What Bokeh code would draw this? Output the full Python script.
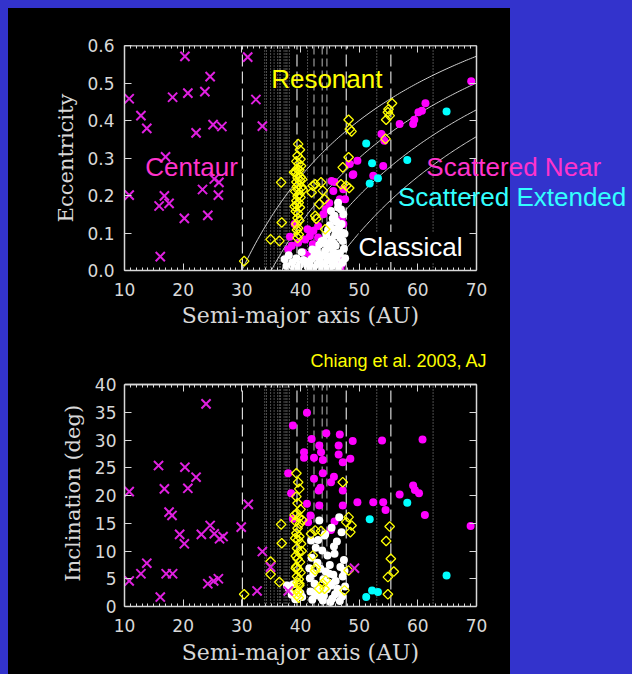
import numpy as np
from bokeh.plotting import figure
from bokeh.layouts import column
from bokeh.models import (Label, LinearAxis, Range1d, FixedTicker, NumeralTickFormatter)
from bokeh.embed import file_html
from bokeh.resources import INLINE

# ---------------- data ----------------
# resonance locations (AU)
res_dashed = [30.1, 39.4, 47.8, 55.4]
res_medium = [42.3, 43.7, 44.5]
res_dotted = [33.9, 34.2, 34.9, 35.5, 36.1, 36.4, 36.6, 37.2, 37.5, 37.7, 38.1, 41.2, 53.0, 62.6]
# perihelion curves q = a(1-e)
q_values = [30, 35, 40, 45]

# axis ticks
x_ticks = [10, 20, 30, 40, 50, 60, 70]
x_minor = [v for v in range(11, 70) if v % 10]
e_ticks = [0.0, 0.1, 0.2, 0.3, 0.4, 0.5, 0.6]
i_ticks = [0, 5, 10, 15, 20, 25, 30, 35, 40]
x_lim = (10, 70)
e_lim = (0.0, 0.6)
i_lim = (0, 40)

# ---- top panel: eccentricity ----
cen_a_top = [10.8, 12.8, 13.8, 10.8, 17.0, 18.2, 20.3, 20.8, 22.2, 23.7, 24.6, 25.1, 26.6,
             16.8, 15.9, 17.6, 20.2, 24.2, 23.3, 25.3, 26.1, 26.0, 16.1, 31.0, 32.4, 33.5]
cen_e_top = [0.458, 0.413, 0.379, 0.201, 0.303, 0.462, 0.571, 0.473, 0.367, 0.477, 0.517, 0.389, 0.384,
             0.199, 0.172, 0.179, 0.139, 0.147, 0.216, 0.244, 0.235, 0.201, 0.037, 0.569, 0.456, 0.385]

res_a_top = [30.4, 34.9, 36.4, 36.8, 36.7, 42.1, 42.5, 41.9, 43.5, 43.8, 43.2, 44.1, 42.5, 42.7,
             44.2, 47.2, 46.9, 47.8, 48.3, 48.2, 48.2, 48.4, 48.7, 54.5, 54.6, 55.2, 54.9, 55.0, 55.6,
             39.6, 39.9, 39.5, 40.0, 39.3, 39.7, 40.1, 39.4, 39.8, 39.2, 39.6, 40.0, 39.5, 39.9, 39.3,
             39.7, 39.4, 40.2, 39.6, 39.1, 39.8, 39.5, 40.0, 39.3, 39.7, 39.4, 39.9, 39.2, 39.6, 39.5,
             39.8, 39.3, 39.6, 39.4, 39.7, 39.5, 38.9, 40.4, 39.0, 40.3]
res_e_top = [0.025, 0.083, 0.079, 0.128, 0.235, 0.226, 0.230, 0.208, 0.235, 0.213, 0.177, 0.190, 0.146, 0.138,
             0.110, 0.275, 0.230, 0.226, 0.220, 0.302, 0.402, 0.377, 0.371, 0.351, 0.402, 0.413, 0.422, 0.430, 0.446,
             0.337, 0.322, 0.306, 0.297, 0.291, 0.284, 0.279, 0.271, 0.268, 0.262, 0.256, 0.249, 0.247, 0.240, 0.236,
             0.229, 0.224, 0.222, 0.215, 0.211, 0.204, 0.198, 0.195, 0.186, 0.181, 0.174, 0.168, 0.158, 0.152,
             0.140, 0.133, 0.124, 0.113, 0.108, 0.096, 0.087, 0.262, 0.215, 0.171, 0.243]

sn_a_top = [69.1, 61.3, 60.7, 60.1, 59.4, 59.2, 56.9, 53.8, 54.3, 54.1, 52.4, 49.7, 48.9, 48.4, 49.0,
            45.3, 45.8, 47.3, 46.7, 47.6, 44.4, 43.9, 47.0, 47.3, 43.0, 42.2, 41.6, 43.0, 40.8, 39.6,
            38.5, 37.9, 40.5, 41.6, 42.5, 46.4, 47.0, 39.0, 46.8, 42.1, 44.9, 41.2, 38.2, 45.6]
sn_e_top = [0.505, 0.446, 0.426, 0.422, 0.402, 0.391, 0.391, 0.364, 0.346, 0.279, 0.253, 0.293, 0.255, 0.284, 0.257,
            0.239, 0.236, 0.217, 0.190, 0.190, 0.164, 0.150, 0.137, 0.124, 0.119, 0.106, 0.092, 0.088, 0.083, 0.074,
            0.066, 0.057, 0.048, 0.043, 0.061, 0.039, 0.017, 0.124, 0.005, 0.070, 0.180, 0.110, 0.090, 0.212]

cla_a_top = [46.4, 45.2, 46.9, 45.8, 47.3, 46.1, 45.5, 47.0, 46.6, 45.0,
             44.7, 46.3, 47.5, 45.9, 44.4, 46.8, 45.3, 47.2, 44.0, 45.7,
             43.6, 46.0, 43.2, 44.9, 47.4, 42.8, 44.2, 45.6, 46.7, 42.4,
             43.9, 45.1, 46.2, 41.9, 43.3, 44.6, 45.8, 47.1, 41.5, 42.9,
             44.1, 45.4, 46.5, 42.2, 43.7, 44.8, 46.0, 47.6, 41.2, 42.6,
             43.5, 45.0, 38.0, 38.6, 39.3, 39.9, 40.5, 37.6, 38.9, 40.2,
             40.8, 41.4, 39.6, 37.3, 42.0, 43.0, 44.4, 45.9, 47.3, 46.4]
cla_e_top = [0.181, 0.159, 0.163, 0.146, 0.150, 0.131, 0.139, 0.124, 0.117, 0.121,
             0.109, 0.104, 0.098, 0.094, 0.096, 0.087, 0.083, 0.079, 0.081, 0.072,
             0.078, 0.066, 0.069, 0.061, 0.058, 0.055, 0.052, 0.049, 0.046, 0.043,
             0.041, 0.038, 0.034, 0.031, 0.029, 0.027, 0.024, 0.021, 0.018, 0.016,
             0.014, 0.012, 0.009, 0.007, 0.006, 0.004, 0.013, 0.033, 0.011, 0.037,
             0.019, 0.062, 0.041, 0.022, 0.033, 0.016, 0.028, 0.012, 0.006, 0.049,
             0.025, 0.008, 0.004, 0.030, 0.056, 0.044, 0.070, 0.110, 0.100, 0.168]

# scattered extended (same objects in both panels)
se_a = [51.2, 52.2, 53.2, 51.8, 58.2, 64.9]
se_e = [0.339, 0.286, 0.246, 0.232, 0.295, 0.424]
se_i = [1.7, 2.9, 2.6, 15.7, 18.7, 5.6]

# ---- bottom panel: inclination ----
cen_a_bot = [10.8, 10.8, 12.8, 13.8, 15.8, 16.1, 16.8, 17.6, 18.1, 17.1, 18.2, 19.4, 20.2, 20.3, 20.8, 22.2,
             23.1, 23.9, 24.2, 24.6, 25.2, 25.3, 26.0, 26.2, 26.8, 29.9, 31.1, 32.6, 33.5, 34.9, 37.9, 49.2]
cen_i_bot = [20.7, 4.6, 5.9, 7.8, 25.4, 1.7, 21.2, 17.0, 16.4, 5.9, 5.9, 13.0, 11.3, 25.1, 21.3, 23.3,
             13.0, 36.5, 4.1, 14.6, 4.6, 13.1, 5.0, 12.2, 12.6, 14.3, 18.4, 2.8, 9.9, 7.1, 2.8, 6.9]

res_a_bot = [30.4, 34.9, 34.9, 36.7, 36.8, 36.4, 42.1, 42.5, 43.5, 42.5, 43.8, 43.2, 44.3, 41.8, 42.6, 44.1,
             47.2, 48.2, 48.7, 48.5, 47.8, 48.2, 47.5, 55.2, 54.6, 55.4, 55.9, 54.9, 54.9,
             39.3, 39.6, 39.8, 39.3, 39.5, 40.0, 39.4, 39.7, 39.2, 39.9, 39.5, 39.3, 39.8, 39.6, 40.1,
             39.4, 39.7, 39.2, 39.5, 39.9, 39.3, 39.6, 40.0, 39.4, 39.7, 39.5, 39.8, 39.3, 39.6, 39.4, 39.7,
             39.0, 40.3, 39.1, 40.2, 39.8, 39.2]
res_i_bot = [2.2, 8.1, 5.8, 14.8, 11.4, 4.4, 9.2, 6.5, 13.6, 13.7, 4.1, 3.2, 4.7, 13.1, 7.0, 3.2,
             22.4, 16.1, 14.6, 13.4, 15.2, 6.5, 2.9, 14.4, 11.8, 8.6, 6.3, 5.3, 2.2,
             24.0, 22.4, 21.2, 19.8, 18.6, 17.5, 16.8, 16.0, 15.3, 14.9, 14.1, 13.2, 12.6, 12.0, 11.3,
             10.5, 9.8, 9.1, 8.6, 8.0, 7.2, 6.7, 6.1, 5.4, 4.9, 4.3, 3.8, 3.1, 2.6, 2.0, 1.6,
             16.5, 15.6, 12.3, 10.0, 4.1, 6.9]

sn_a_bot = [41.1, 38.7, 41.9, 44.4, 46.7, 46.5, 48.9, 53.9, 60.8, 43.2, 43.5, 40.6, 40.6, 42.3, 43.8, 46.5,
            47.2, 48.5, 37.9, 42.3, 43.8, 45.2, 45.7, 43.4, 43.1, 47.2, 38.4, 49.7, 52.4, 54.1, 54.5, 56.9,
            59.2, 59.5, 60.2, 61.2, 69.0, 41.1, 43.2, 47.2, 41.7, 41.3, 45.8, 45.2, 38.7]
sn_i_bot = [34.9, 32.6, 30.2, 31.2, 31.0, 29.0, 29.8, 29.9, 30.1, 29.0, 27.8, 27.8, 26.8, 26.8, 26.4, 27.4,
            26.0, 26.6, 24.0, 23.0, 24.0, 22.4, 23.4, 21.4, 20.9, 20.9, 20.4, 18.8, 18.8, 18.8, 17.4, 20.2,
            21.8, 21.0, 20.4, 16.5, 14.5, 18.5, 18.2, 18.2, 16.4, 15.2, 15.3, 13.8, 15.8]

cla_a_bot = [46.6, 43.2, 41.8, 45.3, 47.0, 44.1, 42.6, 46.2, 43.7, 45.8,
             41.9, 44.6, 47.4, 42.9, 45.0, 46.8, 43.4, 44.3, 42.2, 45.6,
             47.2, 41.6, 43.9, 46.0, 44.8, 42.4, 45.2, 47.6, 43.1, 44.5,
             46.4, 41.7, 42.8, 45.9, 44.0, 47.1, 43.5, 45.4, 42.0, 46.7,
             44.2, 43.0, 45.7, 47.5, 41.5, 44.9, 46.3, 42.5, 43.8, 45.1,
             38.0, 38.5, 39.1, 39.7, 40.3, 37.7, 38.8, 40.0]
cla_i_bot = [16.1, 15.5, 11.9, 14.2, 13.4, 12.8, 10.6, 11.7, 10.1, 9.5,
             8.8, 9.2, 8.4, 7.9, 7.5, 7.1, 6.8, 6.3, 6.0, 5.7,
             5.4, 5.1, 4.9, 4.6, 4.3, 4.1, 3.8, 3.6, 3.4, 3.1,
             2.9, 2.7, 2.5, 2.2, 2.0, 1.8, 1.6, 1.4, 1.2, 1.0,
             13.0, 12.0, 10.8, 6.4, 6.9, 5.9, 3.2, 2.0, 1.1, 0.8,
             3.3, 2.1, 1.3, 2.6, 1.7, 3.8, 4.0, 2.4]

# ---------------- styling ----------------
W = 632
BLUE = "#3333CC"
FG = "#d8d8d8"
GRID = "#9a9a9a"
MAG = "#ff00ff"
XMAG = "#e020e0"
CYAN = "#00ffff"
YEL = "#ffff00"
TICK_FONT = "DejaVu Sans"
LAB_FONT = "DejaVu Serif"
TXT_FONT = "Liberation Sans"
PANEL = (f"linear-gradient(to right, {BLUE} 0px, {BLUE} 8px, #000000 8px, "
         f"#000000 510px, {BLUE} 510px, {BLUE} 632px)")
TOPSTRIP = f"linear-gradient(to bottom, {BLUE} 0px, {BLUE} 8px, rgba(0,0,0,0) 8px)"

PX_PER_AU = 352 / 60.0
X_END = x_lim[0] + (W - 124) / PX_PER_AU   # frame runs to the right edge of the page
X_TITLE = "Semi-major axis (AU)"


def style_axis(ax):
    ax.axis_line_color = FG
    ax.axis_line_width = 1.5
    ax.major_tick_line_color = FG
    ax.minor_tick_line_color = FG
    ax.major_tick_in = 7
    ax.major_tick_out = 0
    ax.minor_tick_in = 3
    ax.minor_tick_out = 0
    ax.major_label_text_color = FG
    ax.major_label_text_font = TICK_FONT
    ax.major_label_text_font_size = "17px"
    ax.axis_label_text_color = FG
    ax.axis_label_text_font = LAB_FONT
    ax.axis_label_text_font_size = "21px"
    ax.axis_label_text_font_style = "normal"


def tick_axis(p, side, loc, positions, length, bounds):
    """Axis that only draws inward tick marks (no labels)."""
    ax = LinearAxis(ticker=FixedTicker(ticks=[], minor_ticks=positions),
                    fixed_location=loc, bounds=bounds,
                    axis_line_color=FG, axis_line_width=1.5,
                    minor_tick_line_color=FG, minor_tick_in=length, minor_tick_out=0,
                    major_tick_in=0, major_tick_out=0,
                    major_label_standoff=0, axis_label_standoff=0)
    p.add_layout(ax, side)


def res_lines(p, ylim):
    p.segment(x0=res_dotted, y0=[ylim[0]] * len(res_dotted), x1=res_dotted, y1=[ylim[1]] * len(res_dotted),
              line_color=GRID, line_dash="1 2", line_width=1)
    p.segment(x0=res_medium, y0=[ylim[0]] * len(res_medium), x1=res_medium, y1=[ylim[1]] * len(res_medium),
              line_color=GRID, line_dash="8 4", line_width=1.2)
    p.segment(x0=res_dashed, y0=[ylim[0]] * len(res_dashed), x1=res_dashed, y1=[ylim[1]] * len(res_dashed),
              line_color=FG, line_dash="12 5", line_width=1.2)


def base_fig(h, yrange, top, bottom, bg, yticks, ybounds, lab_stand, xtitle_y):
    p = figure(width=W, height=h, x_range=Range1d(x_lim[0], X_END), y_range=Range1d(*yrange),
               output_backend="svg", toolbar_location=None,
               min_border_left=124, min_border_right=0, min_border_top=top, min_border_bottom=bottom,
               background_fill_color=None, border_fill_color=None, outline_line_color=None,
               styles={"background": bg})
    p.grid.visible = False
    for ax in list(p.xaxis) + list(p.yaxis):
        style_axis(ax)
    p.below[0].ticker = FixedTicker(ticks=x_ticks, minor_ticks=x_minor)
    p.below[0].bounds = x_lim
    p.below[0].major_label_standoff = 12
    p.left[0].ticker = FixedTicker(ticks=yticks)
    p.left[0].bounds = ybounds
    p.left[0].major_label_standoff = lab_stand
    p.left[0].axis_label_standoff = 6
    tick_axis(p, "above", ybounds[1], x_minor, 3, x_lim)
    tick_axis(p, "above", ybounds[1], x_ticks, 7, x_lim)
    tick_axis(p, "right", x_lim[1], yticks, 7, ybounds)
    res_lines(p, ybounds)
    # x-axis title centred under the plotted 10-70 AU span
    p.add_layout(Label(x=sum(x_lim) / 2, y=xtitle_y, text=X_TITLE, text_align="center",
                       text_baseline="middle", text_font=LAB_FONT, text_font_size="22px",
                       text_color=FG), "below")
    return p


# ======== top figure ========
p1 = base_fig(350, e_lim, 45, 80, TOPSTRIP + ", " + PANEL, e_ticks, e_lim, 10, -0.121)
p1.left[0].formatter = NumeralTickFormatter(format="0.0")
p1.left[0].axis_label = "Eccentricity"
for q in q_values:
    a_curve = np.linspace(q, x_lim[1], 120)
    p1.line(a_curve, 1 - q / a_curve, line_color="#cfcfcf", line_width=1)
p1.scatter(sn_a_top, sn_e_top, marker="circle", size=8, fill_color=MAG, line_color=None)
p1.scatter(cla_a_top, cla_e_top, marker="circle", size=8, fill_color="white", line_color=None)
p1.scatter(se_a, se_e, marker="circle", size=8, fill_color=CYAN, line_color=None)
p1.scatter(res_a_top, res_e_top, marker="square", angle=np.pi / 4, size=6.8,
           fill_color=None, line_color=YEL, line_width=1.3)
p1.scatter(cen_a_top, cen_e_top, marker="x", size=13, line_color=XMAG, line_width=2)

p1.add_layout(Label(x=35.0, y=0.511, text="Resonant", text_color=YEL, text_font=TXT_FONT,
                    text_font_size="26px", text_baseline="middle"))
p1.add_layout(Label(x=13.55, y=0.275, text="Centaur", text_color="#ff33cc", text_font=TXT_FONT,
                    text_font_size="26px", text_baseline="middle"))
p1.add_layout(Label(x=61.45, y=0.277, text="Scattered Near", text_color="#ff33cc", text_font=TXT_FONT,
                    text_font_size="26px", text_baseline="middle"))
p1.add_layout(Label(x=56.6, y=0.195, text="Scattered Extended", text_color="#33ffff", text_font=TXT_FONT,
                    text_font_size="26px", text_baseline="middle"))
p1.add_layout(Label(x=49.9, y=0.063, text="Classical", text_color="white", text_font=TXT_FONT,
                    text_font_size="26px", text_baseline="middle", background_fill_color="black"))

# ======== bottom figure (frame extended upward for the citation) ========
y_end_bot = i_lim[1] * 256 / 222.0
p2 = base_fig(324, (i_lim[0], y_end_bot), 0, 68, PANEL, i_ticks, i_lim, 8, -8.2)
# y-axis title centred on the 0-40 deg span
p2.add_layout(Label(x=1.3, y=sum(i_lim) / 2 + 0.4, text="Inclination (deg)", angle=np.pi / 2,
                    text_align="center", text_baseline="middle", text_font=LAB_FONT,
                    text_font_size="21px", text_color=FG), "left")
p2.scatter(sn_a_bot, sn_i_bot, marker="circle", size=8, fill_color=MAG, line_color=None)
p2.scatter(cla_a_bot, cla_i_bot, marker="circle", size=8, fill_color="white", line_color=None)
p2.scatter(se_a, se_i, marker="circle", size=8, fill_color=CYAN, line_color=None)
p2.scatter(res_a_bot, res_i_bot, marker="square", angle=np.pi / 4, size=6.8,
           fill_color=None, line_color=YEL, line_width=1.3)
p2.scatter(cen_a_bot, cen_i_bot, marker="x", size=13, line_color=XMAG, line_width=2)
p2.add_layout(Label(x=41.7, y=44.3, text="Chiang et al. 2003, AJ", text_color=YEL, text_font=TXT_FONT,
                    text_font_size="18px", text_baseline="middle"))

layout = column(p1, p2, spacing=0)
open("out.html", "w").write(file_html(layout, INLINE))
